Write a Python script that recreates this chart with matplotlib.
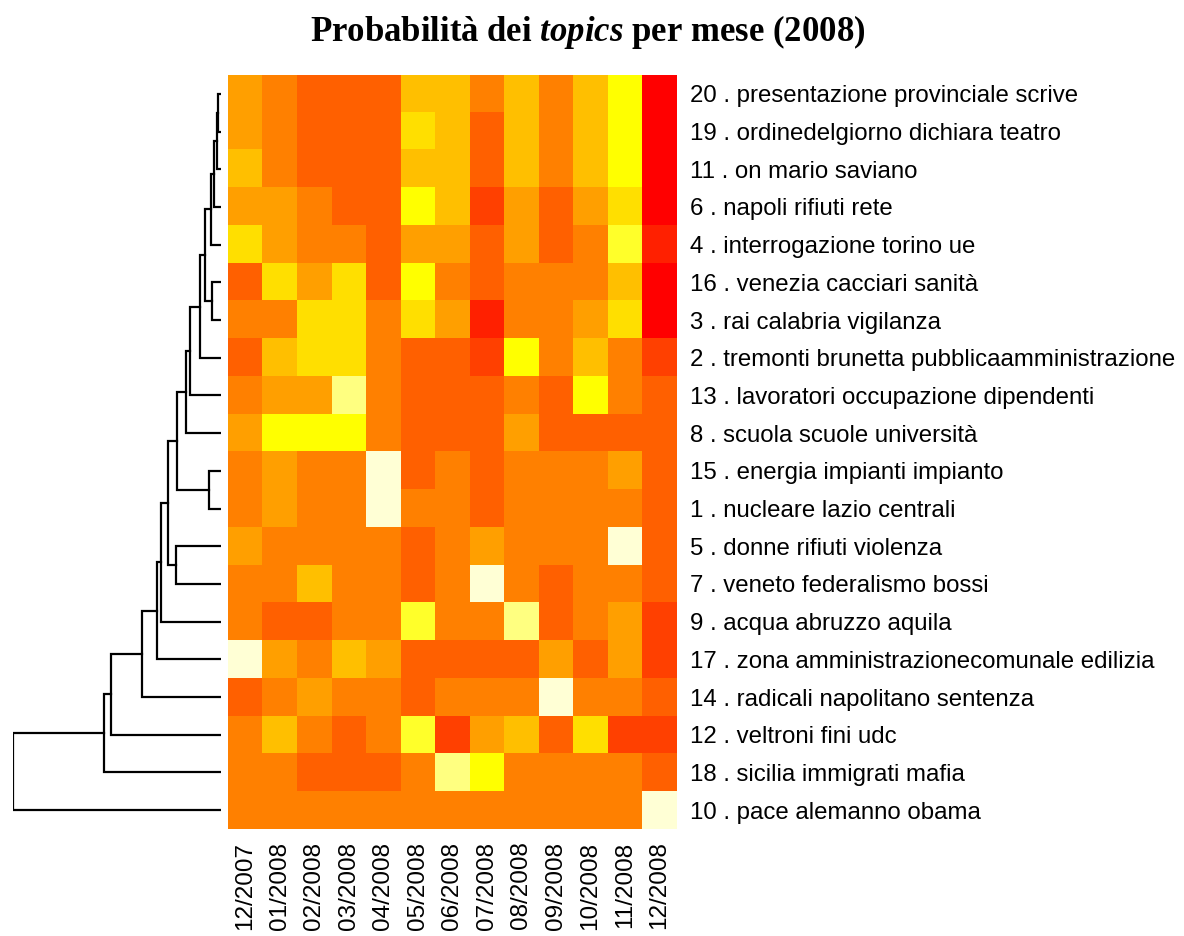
import matplotlib
matplotlib.use("Agg")
import matplotlib.pyplot as plt
import matplotlib.colors
import numpy as np

# heat.colors(12) palette, from red to pale yellow
heat_colors = ["#FF0000", "#FF2000", "#FF4000", "#FF6000", "#FF8000", "#FF9F00",
               "#FFBF00", "#FFDF00", "#FFFF00", "#FFFF2A", "#FFFF80", "#FFFFD5"]

months = ["12/2007", "01/2008", "02/2008", "03/2008", "04/2008", "05/2008", "06/2008",
          "07/2008", "08/2008", "09/2008", "10/2008", "11/2008", "12/2008"]

topics = [
    "20 . presentazione provinciale scrive",
    "19 . ordinedelgiorno dichiara teatro",
    "11 . on mario saviano",
    "6 . napoli rifiuti rete",
    "4 . interrogazione torino ue",
    "16 . venezia cacciari sanità",
    "3 . rai calabria vigilanza",
    "2 . tremonti brunetta pubblicaamministrazione",
    "13 . lavoratori occupazione dipendenti",
    "8 . scuola scuole università",
    "15 . energia impianti impianto",
    "1 . nucleare lazio centrali",
    "5 . donne rifiuti violenza",
    "7 . veneto federalismo bossi",
    "9 . acqua abruzzo aquila",
    "17 . zona amministrazionecomunale edilizia",
    "14 . radicali napolitano sentenza",
    "12 . veltroni fini udc",
    "18 . sicilia immigrati mafia",
    "10 . pace alemanno obama",
]

# colour level (0 = red ... 11 = pale yellow) for each topic/month, top row first
levels = np.array([
    [5, 4, 3, 3, 3, 6, 6, 4, 6, 4, 6, 8, 0],
    [5, 4, 3, 3, 3, 7, 6, 3, 6, 4, 6, 8, 0],
    [6, 4, 3, 3, 3, 6, 6, 3, 6, 4, 6, 8, 0],
    [5, 5, 4, 3, 3, 8, 6, 2, 5, 3, 5, 7, 0],
    [7, 5, 4, 4, 3, 5, 5, 3, 5, 3, 4, 9, 1],
    [3, 7, 5, 7, 3, 8, 4, 3, 4, 4, 4, 6, 0],
    [4, 4, 7, 7, 4, 7, 5, 1, 4, 4, 5, 7, 0],
    [3, 6, 7, 7, 4, 3, 3, 2, 8, 4, 6, 4, 2],
    [4, 5, 5, 10, 4, 3, 3, 3, 4, 3, 8, 4, 3],
    [5, 8, 8, 8, 4, 3, 3, 3, 5, 3, 3, 3, 3],
    [4, 5, 4, 4, 11, 3, 4, 3, 4, 4, 4, 5, 3],
    [4, 5, 4, 4, 11, 4, 4, 3, 4, 4, 4, 4, 3],
    [5, 4, 4, 4, 4, 3, 4, 5, 4, 4, 4, 11, 3],
    [4, 4, 6, 4, 4, 3, 4, 11, 4, 3, 4, 4, 3],
    [4, 3, 3, 4, 4, 9, 4, 4, 10, 3, 4, 5, 2],
    [11, 5, 4, 6, 5, 3, 3, 3, 3, 5, 3, 5, 2],
    [3, 4, 5, 4, 4, 3, 4, 4, 4, 11, 4, 4, 3],
    [4, 6, 4, 3, 4, 9, 2, 5, 6, 3, 7, 2, 2],
    [4, 4, 3, 3, 3, 4, 10, 8, 4, 4, 4, 4, 3],
    [4, 4, 4, 4, 4, 4, 4, 4, 4, 4, 4, 4, 11],
])

# row dendrogram merges (scipy-like): left id, right id, height; leaves 0..19 top to bottom
merges = [
    (0, 1, 2.4), (20, 2, 4.0), (21, 3, 7.0), (22, 4, 10.0), (5, 6, 8.4),
    (23, 24, 16.0), (25, 7, 21.0), (26, 8, 30.7), (27, 9, 34.4), (10, 11, 12.0),
    (28, 29, 43.7), (12, 13, 45.0), (30, 31, 53.0), (32, 14, 59.7), (33, 15, 64.0),
    (34, 16, 78.4), (35, 17, 109.7), (36, 18, 117.0), (37, 19, 207.7),
]

fig = plt.figure(figsize=(11.84, 9.36), dpi=100)

# heatmap
ax = fig.add_axes([228 / 1184, 1 - 829 / 936, 448.5 / 1184, 754 / 936])
cmap = matplotlib.colors.ListedColormap(heat_colors)
ax.imshow(levels, cmap=cmap, vmin=-0.5, vmax=11.5, aspect="auto", interpolation="nearest")
for s in ax.spines.values():
    s.set_visible(False)
ax.set_xticks(np.arange(len(months)))
ax.set_xticklabels(months, rotation=90, fontsize=17.5, family="Liberation Sans")
ax.set_yticks(np.arange(len(topics)))
ax.set_yticklabels(topics, fontsize=17.3, family="Liberation Sans")
ax.yaxis.tick_right()
ax.tick_params(length=0)
ax.tick_params(axis="x", pad=9)
ax.tick_params(axis="y", pad=9.5)

# dendrogram
dax = fig.add_axes([13 / 1184, 1 - 829 / 936, 207.7 / 1184, 754 / 936])
pos = {i: float(i) for i in range(len(topics))}
hgt = {i: 0.0 for i in range(len(topics))}
for k, (a, b, h) in enumerate(merges):
    nid = len(topics) + k
    dax.plot([hgt[a], h, h, hgt[b]], [pos[a], pos[a], pos[b], pos[b]],
             color="black", lw=1.6, solid_joinstyle="miter")
    pos[nid] = (pos[a] + pos[b]) / 2
    hgt[nid] = h
dax.set_xlim(merges[-1][2], 0)
dax.set_ylim(len(topics) - 0.5, -0.5)
dax.axis("off")

plt.rcParams["mathtext.fontset"] = "custom"
plt.rcParams["mathtext.rm"] = "Liberation Serif:bold"
plt.rcParams["mathtext.it"] = "Liberation Serif:italic:bold"
fig.text(588 / 1184, 1 - 32 / 936, r"Probabilità dei $\it{topics}$ per mese (2008)",
         ha="center", va="center", fontsize=25, family="Liberation Serif", weight="bold")

fig.savefig("out.png", dpi=100)
